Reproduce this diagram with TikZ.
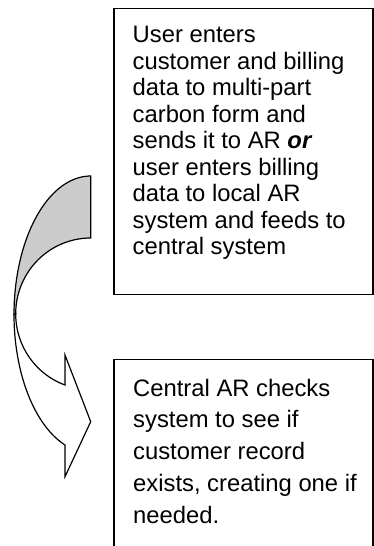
\documentclass[tikz,border=0pt]{standalone}
\usepackage{fontspec}
\setmainfont{Liberation Sans}
\definecolor{backgray}{RGB}{204,204,204}
\begin{document}
\begin{tikzpicture}[x=1pt,y=-1pt,
  boxstyle/.style={draw=black, line width=1.8pt, fill=none, inner sep=0pt, anchor=north west},
  txtA/.style={anchor=north west, inner sep=0pt, align=left, font=\fontsize{23.8}{26.5}\selectfont},
  txtB/.style={anchor=north west, inner sep=0pt, align=left, font=\fontsize{23.8}{31.7}\selectfont},
  arrowline/.style={draw=black, line width=1.2pt, line join=miter}]
\useasboundingbox (0,0) rectangle (373,546);
% boxes
\node[boxstyle, minimum width=258.7pt, minimum height=286pt] (topbox) at (113,7.5) {};
\node[boxstyle, minimum width=258.7pt, minimum height=200pt] (botbox) at (113,358.5) {};
% texts
\node[txtA] (toptext) at (132.5,24.7) {\rule{0pt}{18pt}User enters\\
customer and billing\\
data to multi-part\\
carbon form and\\
sends it to AR \textbf{\textit{or}}\\
user enters billing\\
data to local AR\\
system and feeds to\\
central system};
\node[txtB] (bottext) at (133,378) {\rule{0pt}{18pt}Central AR checks\\
system to see if\\
customer record\\
exists, creating one if\\
needed.};
% curved arrow: back face
\draw[arrowline, fill=backgray]
  plot[domain=270:180, samples=60, variable=\t] ({90.7+76.7*cos(\t)}, {314.5+138.5*sin(\t)})
  -- plot[domain=180:270, samples=60, variable=\t] ({90.7+75*cos(\t)}, {313.8+75.8*sin(\t)})
  -- cycle;
% curved arrow: front face
\draw[arrowline, fill=white]
  plot[domain=180:110, samples=60, variable=\t] ({90.7+75*cos(\t)}, {313.8+75.8*sin(\t)})
  -- (65,355) -- (90.7,421.7) -- (65,476.7) -- (65,445)
  -- plot[domain=109.6:180, samples=60, variable=\t] ({90.7+76.7*cos(\t)}, {314.5+138.5*sin(\t)})
  -- cycle;
\end{tikzpicture}
\end{document}
